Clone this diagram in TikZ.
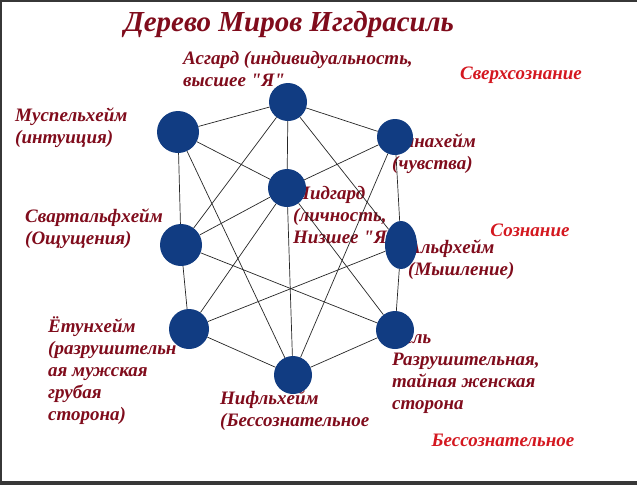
\documentclass[tikz,border=0pt]{standalone}
\usepackage{fontspec}
\setmainfont{Liberation Serif}
\usetikzlibrary{shapes.geometric}
\definecolor{worldblue}{RGB}{17,60,130}
\definecolor{labelred}{RGB}{128,12,28}
\definecolor{levelred}{RGB}{212,24,32}
\definecolor{framegray}{RGB}{55,55,55}
\newcommand{\qt}{\textquotedbl}
\tikzset{
  world/.style={circle, fill=worldblue, inner sep=0pt, minimum size=#1},
  world/.default=38pt,
  lbl/.style={anchor=north west, align=left, inner sep=0pt, text=labelred,
    font=\fontsize{19}{22}\selectfont\bfseries\itshape},
  level/.style={inner sep=0pt, text=levelred, font=\fontsize{19}{22}\selectfont\bfseries\itshape},
  link/.style={draw=black!85, line width=0.7pt}
}
\begin{document}
\begin{tikzpicture}[x=1pt,y=-1pt]
\useasboundingbox (0,0) rectangle (637,485);
\fill[white] (0,0) rectangle (637,485);
\fill[framegray] (0,0) rectangle (637,2);
\fill[framegray] (0,0) rectangle (2,485);
\fill[framegray] (0,481) rectangle (637,485);

\node[inner sep=0pt, text=labelred, font=\fontsize{29}{32}\selectfont\bfseries\itshape] (title) at (289,25) {Дерево Миров Иггдрасиль};
\node[level] (super) at (521,75) {Сверхсознание};
\node[level] (conscious) at (530,230) {Сознание};
\node[level] (unconscious) at (503,440) {Бессознательное};

\node[lbl] (asgardlbl) at (183,51) {Асгард (индивидуальность,\\высшее \qt Я\qt};
\node[lbl] (muspellbl) at (15,108) {Муспельхейм\\(интуиция)};
\node[lbl] (vanalbl) at (392,134) {Ванахейм\\(чувства)};
\node[lbl] (midgardlbl) at (293,186) {Мидгард\\(личность,\\Низшее \qt Я\qt)};
\node[lbl] (svartlbl) at (25,209) {Свартальфхейм\\(Ощущения)};
\node[lbl] (alflbl) at (408,240) {Альфхейм\\(Мышление)};
\node[lbl] (jotunlbl) at (48,316) {Ётунхейм\\(разрушительн\\ая мужская\\грубая\\сторона)};
\node[lbl] (hellbl) at (392,331) {Хель\\Разрушительная,\\тайная женская\\сторона};
\node[lbl] (nifllbl) at (220,391) {Нифльхейм\\(Бессознательное};

\node[world] (asgard) at (288,102) {};
\node[world=42pt] (muspel) at (178,132) {};
\node[world=36pt] (vana) at (395,137) {};
\node[world] (midgard) at (287,188) {};
\node[world=42pt] (svart) at (181,245) {};
\node[ellipse, fill=worldblue, inner sep=0pt, minimum width=32pt, minimum height=48pt] (alf) at (401,245) {};
\node[world=40pt] (jotun) at (189,329) {};
\node[world] (hel) at (395,330) {};
\node[world] (nifl) at (293,375) {};

\foreach \a/\b in {asgard/muspel, asgard/vana, asgard/midgard, asgard/svart, asgard/alf,
  muspel/svart, muspel/midgard, muspel/nifl, vana/alf, vana/midgard, vana/nifl,
  midgard/svart, midgard/nifl, midgard/jotun, midgard/hel,
  svart/jotun, svart/hel, alf/jotun, alf/hel, jotun/nifl, hel/nifl}
\draw[link] (\a) -- (\b);
\end{tikzpicture}
\end{document}
